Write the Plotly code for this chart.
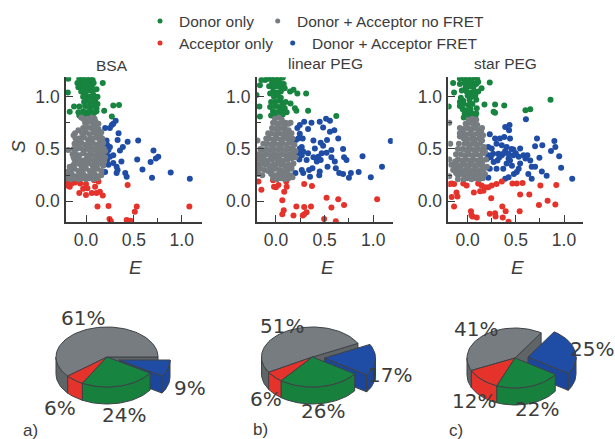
import math
import plotly.graph_objects as go

# ---------- data ----------
panel_titles = ["BSA", "linear PEG", "star PEG"]
panel_letters = ["a)", "b)", "c)"]
legend_labels = ["Donor only", "Donor + Acceptor no FRET", "Acceptor only", "Donor + Acceptor FRET"]
tick_vals = [0.0, 0.5, 1.0]
tick_text = ["0.0", "0.5", "1.0"]

bsa_green = [(-.185,1.17),(-.19,1.04),(.175,1.13),(.285,.915),(.345,.92),(.19,.865),(.27,.81),(-.17,.855),(-.125,.905),(-.07,.905),
 (-.09,1.13),(-.06,1.12),(-.07,1.17),(-.04,1.17),(0,1.18),(.04,1.17),(-.03,1.13),(.01,1.14),(.05,1.12),(-.03,1.09),(-.02,1.1),(.02,1.09),(.06,1.10),
 (-.01,1.05),(.03,1.06),(.07,1.05),(0,1.01),(.04,1.0),(.08,1.01),(.1,.98),(0,.96),(.04,.95),(.08,.96),(.1,.94),(-.01,.91),(.03,.90),(.07,.91),(.11,.89),
 (-.03,.86),(.01,.85),(.05,.86),(.09,.85),(.11,.86),(-.05,.81),(-.01,.82),(.03,.81),(.07,.82),
 (-.08,.85),(-.07,.82),(.12,.93),(.12,1.0),(.11,1.07),(.08,1.13),(.07,1.16),(-.08,1.09),(-.05,1.05),(-.03,1.0),(-.02,.95)]
bsa_gray = [(.02,.79),(.06,.80),(.09,.79),(-.01,.75),(.03,.76),(.07,.75),(.11,.74),(-.03,.70),(.01,.71),(.05,.70),(.09,.71),(.13,.69),
 (-.04,.65),(0,.66),(.04,.64),(.08,.66),(.12,.65),(.15,.62),(-.13,.63),(-.06,.60),(-.02,.61),(.02,.59),(.06,.60),(.10,.61),(.14,.59),
 (-.09,.55),(-.05,.56),(-.01,.54),(.03,.55),(.07,.56),(.11,.54),(.15,.55),(-.185,.49),(-.1,.50),(-.06,.51),(-.02,.49),(.02,.50),(.06,.51),(.10,.49),(.14,.50),(.18,.51),
 (-.11,.45),(-.07,.44),(-.03,.46),(.01,.44),(.05,.46),(.09,.44),(.13,.45),(.17,.46),(-.12,.40),(-.08,.41),(-.04,.39),(0,.40),(.04,.41),(.08,.39),(.12,.40),(.16,.41),
 (-.13,.35),(-.09,.36),(-.05,.34),(-.01,.35),(.03,.36),(.07,.34),(.11,.35),(.15,.36),(.18,.34),(-.16,.30),(-.12,.31),(-.08,.29),(-.04,.30),(0,.31),(.04,.29),(.08,.30),(.12,.31),(.16,.29),
 (-.19,.25),(-.15,.26),(-.11,.24),(-.07,.25),(-.03,.26),(.01,.24),(.05,.25),(.09,.26),(.13,.24),(.16,.25),(-.2,.22),(-.16,.21),(-.12,.22),(-.08,.21),(-.04,.22),(0,.21),(.04,.22),(.08,.21),(.12,.22),
 (-.115,.65),(-.08,.68),(-.08,.6),(-.11,.6),(-.12,.55),(-.13,.5),(-.14,.45),(-.13,.42),(.16,.66),(.17,.6),(.18,.56),(.2,.48),(.2,.42),(.19,.38),(-.03,.79),(-.05,.80),(.1,.76),(.13,.74),(-.17,.33),(-.18,.29)]
bsa_blue = [(.2,.70),(.25,.70),(.31,.77),(.27,.73),(.285,.74),(.215,.58),(.22,.54),(.25,.52),(.34,.65),(.33,.585),(.435,.57),(.385,.52),(.355,.485),(.545,.58),
 (.705,.485),(.73,.41),(.755,.425),(.675,.375),(.535,.40),(.59,.305),(.69,.225),(.885,.275),(1.085,.215),(.41,.27),(.425,.235),(.33,.30),(.32,.27),(.2,.28),
 (.235,.35),(.285,.365),(.37,.38),(.215,.46),(.25,.425),(.285,.44),(.22,.395),(.32,.33),(.21,.555),(.235,.49)]
bsa_red = [(-.185,.19),(-.17,.14),(-.115,.18),(-.06,.17),(0,.165),(-.07,.08),(0,.06),(.015,.125),(.085,.2),(.13,.19),(.095,.14),(.06,.08),(.11,.08),(.145,.09),(.175,.055),
 (.435,.155),(.12,-.05),(.235,-.045),(.53,-.05),(.51,-.1),(1.08,-.05),(.245,-.17),(.26,-.19),(.425,-.18),(.465,-.185),(-.15,.17),(-.19,.15),(-.03,.12)]

peg_green = [(.31,1.03),(.33,.865),(.62,.815),(.22,1.03),(.195,.89),(.15,.935),(.145,1.05),(.18,1.065),(-.15,1.16),(-.11,1.16),(-.165,1.11),(-.17,.905),(-.165,.81),(-.2,1.015),(.21,.865),
 (-.05,1.17),(-.01,1.18),(.03,1.17),(.07,1.18),(-.04,1.13),(0,1.14),(.04,1.13),(.08,1.12),(-.03,1.09),(.01,1.1),(.05,1.09),(.09,1.08),(-.03,1.05),(.01,1.04),(.05,1.05),(-.02,1.0),(.02,1.01),(.05,.99),
 (-.01,.95),(.03,.96),(.07,.94),(-.01,.91),(.03,.90),(.07,.91),(.09,.89),(-.03,.86),(.01,.85),(.05,.86),(.08,.85),(-.05,.82),(-.01,.83),(.03,.82),(.07,.83),
 (-.08,1.17),(-.07,1.1),(-.06,1.03),(-.05,.95),(-.06,.9),(.1,.95),(.11,.85)]
peg_gray = [(-.01,.79),(.03,.80),(.06,.78),(.15,.75),(.13,.74),(-.03,.75),(.01,.74),(.05,.75),(.09,.72),(-.04,.70),(0,.69),(.04,.70),(.08,.69),(.11,.68),(-.05,.65),(-.01,.64),(.03,.65),(.07,.64),(.11,.65),(.14,.63),
 (-.07,.60),(-.03,.59),(.01,.60),(.05,.59),(.09,.60),(.13,.59),(-.19,.58),(-.09,.55),(-.05,.54),(-.01,.55),(.03,.54),(.07,.55),(.11,.54),(.15,.56),(-.1,.50),(-.06,.49),(-.02,.50),(.02,.49),(.06,.50),(.10,.49),(.14,.50),(.17,.51),
 (-.14,.49),(-.18,.45),(-.14,.44),(-.1,.45),(-.06,.44),(-.02,.45),(.02,.44),(.06,.45),(.10,.44),(.14,.45),(.18,.46),(-.2,.40),(-.16,.41),(-.12,.40),(-.08,.39),(-.04,.40),(0,.41),(.04,.40),(.08,.39),(.12,.40),(.16,.41),
 (-.19,.35),(-.15,.36),(-.11,.35),(-.07,.34),(-.03,.35),(.01,.36),(.05,.35),(.09,.34),(.13,.35),(-.2,.30),(-.16,.31),(-.12,.30),(-.08,.29),(-.04,.30),(0,.31),(.04,.30),(.08,.29),(.12,.30),(.16,.31),
 (-.18,.26),(-.14,.25),(-.05,.26),(-.01,.25),(.03,.26),(.07,.25),(.11,.26),(.15,.25),(-.03,.22),(.01,.21),(.05,.22),(.09,.21),(.13,.22),(.17,.23),
 (.1,.75),(.13,.68),(.16,.65),(.17,.6),(.19,.54),(.2,.48),(.2,.42),(.18,.36),(.16,.34),(-.08,.65),(-.1,.6),(-.13,.55),(-.16,.5)]
peg_blue = [(1.18,.575),(1.09,.33),(.975,.23),(.89,.43),(.85,.28),(.77,.27),(.75,.225),(.69,.26),(.65,.27),(.615,.315),(.53,.33),(.45,.285),(.445,.25),(.35,.235),(.28,.27),(.265,.30),(.2,.27),(.375,.315),(.34,.30),
 (.725,.395),(.70,.42),(.69,.50),(.64,.60),(.6,.68),(.555,.665),(.555,.77),(.515,.79),(.45,.76),(.485,.705),(.525,.585),(.485,.53),(.46,.56),(.365,.75),(.33,.69),(.29,.76),(.245,.73),(.22,.70),(.23,.60),(.275,.60),(.385,.58),
 (.4,.505),(.265,.52),(.28,.475),(.33,.46),(.385,.42),(.435,.425),(.47,.46),(.57,.49),(.57,.42),(.605,.38),(.24,.40),(.265,.44),(.23,.46),(.315,.395),(.42,.38),(.52,.465),(.46,.395),(.205,.585),(.245,.645),(.245,.505)]
peg_red = [(-.18,.19),(-.15,.11),(-.03,.2),(0,.135),(.025,.155),(-.02,.14),(.105,.19),(.11,.14),(.085,.09),(.065,.01),(.29,.165),(.37,.145),(.52,.035),(.64,.02),(.7,-.035),(.57,-.06),(1.04,.02),
 (.21,-.05),(.29,-.055),(.36,-.05),(.08,-.085),(.065,-.125),(.18,-.135),(.275,-.135),(.315,-.105),(.29,-.125),(.495,-.17),(.615,-.19)]

star_green = [(.23,1.135),(.86,.97),(.6,.87),(.65,.88),(.285,.925),(.38,.915),(.285,.845),(.27,.855),(.175,.925),(-.15,1.13),(-.14,1.04),(-.195,.905),(-.08,.95),(-.045,.96),(.145,1.08),(.11,1.05),(.09,.97),(.095,.89),
 (-.04,1.17),(0,1.18),(.04,1.17),(.08,1.18),(-.03,1.13),(.01,1.14),(.05,1.13),(.09,1.12),(-.02,1.09),(.02,1.1),(.06,1.09),(-.01,1.05),(.03,1.04),(.07,1.05),(0,1.01),(.04,1.0),(.08,1.01),(.02,.97),
 (-.07,.99),(-.04,.93),(.01,.92),(.05,.93),(-.05,.88),(-.01,.87),(.03,.88),(-.03,.84),(.01,.83),(.05,.84),(-.04,.80),(0,.81),(.04,.80),(.08,.81),(-.08,.91),
 (-.08,1.17),(-.08,1.12),(-.06,1.06),(.11,1.14),(.1,1.17),(.09,.84)]
star_gray = [(.01,.78),(.05,.79),(.09,.78),(-.19,.75),(-.02,.74),(.02,.75),(.06,.74),(.1,.73),(-.04,.69),(0,.70),(.04,.69),(.08,.70),(.12,.68),(-.05,.65),(-.01,.64),(.03,.65),(.07,.64),(.11,.65),(.14,.67),(-.08,.62),
 (-.04,.60),(0,.59),(.04,.60),(.08,.59),(.12,.60),(-.18,.55),(-.03,.55),(.01,.54),(.05,.55),(.09,.54),(.13,.55),(-.05,.50),(-.01,.49),(.03,.50),(.07,.49),(.11,.50),(.15,.49),(-.07,.45),(-.03,.44),(.01,.45),(.05,.44),(.09,.45),(.13,.44),(.16,.46),
 (-.19,.40),(-.1,.40),(-.06,.39),(-.02,.40),(.02,.39),(.06,.40),(.1,.39),(.14,.40),(-.17,.35),(-.11,.35),(-.07,.34),(-.03,.35),(.01,.34),(.05,.35),(.09,.34),(.13,.35),(.15,.36),(-.15,.30),(-.1,.30),(-.06,.29),(-.02,.30),(.02,.29),(.06,.30),(.1,.29),(.14,.30),(.17,.31),
 (-.19,.24),(-.1,.25),(-.06,.26),(-.02,.25),(.02,.26),(.06,.25),(.1,.26),(.14,.25),(.18,.26),(-.04,.21),(0,.22),(.04,.21),(.08,.22),(.12,.21),
 (-.08,.7),(-.08,.65),(.15,.7),(.16,.63),(.15,.58),(.17,.52),(.18,.47),(.19,.4),(.2,.33),(-.09,.55),(-.1,.5),(-.12,.45),(-.13,.38),(-.13,.32),(-.12,.27),(-.1,.21),(.16,.22)]
star_blue = [(1.085,.215),(.97,.32),(.95,.43),(.9,.575),(.91,.52),(.865,.48),(.775,.535),(.72,.6),(.7,.525),(.745,.415),(.65,.39),(.665,.33),(.7,.33),(.77,.285),(.82,.245),(.665,.215),(.63,.26),(.605,.785),(.435,.73),(.43,.68),(.39,.71),
 (.23,.64),(.335,.6),(.38,.615),(.44,.6),(.285,.6),(.3,.55),(.355,.535),(.215,.52),(.25,.505),(.405,.52),(.475,.495),(.545,.505),(.58,.44),(.53,.425),(.475,.44),(.425,.455),(.37,.455),(.32,.455),(.265,.455),(.215,.44),(.2,.405),
 (.23,.31),(.3,.31),(.405,.36),(.46,.34),(.53,.31),(.48,.26),(.425,.23),(.215,.225),(.39,.215),(.51,.28),(.37,.31),(.545,.36),(.425,.41),(.355,.44),(.44,.39),(.27,.375),(.33,.42),(.39,.48),(.5,.46),(.6,.41),(.62,.44),(.31,.39),(.24,.42),(.455,.5)]
star_red = [(-.185,.165),(-.14,.165),(-.165,.17),(-.045,.17),(-.01,.15),(.11,.17),(.145,.15),(.18,.135),(.13,.095),(.165,.1),(.065,.085),(.215,.135),(.25,.15),(.3,.165),(.355,.19),(.465,.17),(.51,.17),(.57,.175),(.755,.15),(.92,.155),
 (.545,.065),(.64,.065),(.245,.03),(-.165,.04),(-.115,.085),(-.105,.045),(-.14,-.05),(.74,-.035),(.83,.005),(.91,-.03),(.36,-.05),(.395,-.095),(.54,-.095),(.035,-.095),(.23,-.12),(.285,-.115),(.29,-.145),(.365,-.155),(.425,-.195),(.05,-.145),(.095,-.155),(.04,-.13)]

pie_values = [[61, 6, 24, 9], [51, 6, 26, 17], [41, 12, 22, 25]]   # gray, red, green, blue

# ---------- styling ----------
GREEN, GRAY, RED, BLUE = "#17843f", "#767c80", "#e5322a", "#1f4da6"
WALLS = {GREEN: "#17803d", GRAY: "#5f6467", RED: "#e5322a", BLUE: "#1b469b"}
EDGE = "#3d4246"
INK = "#3c3c3c"
SANS = "Liberation Sans, Arial, sans-serif"
PIEFONT = "DejaVu Sans, Verdana, sans-serif"
W, H = 615, 439

fig = go.Figure()

panels = [
    dict(box=(66, 201.7), xr=[-.209, 1.209], data=(bsa_green, bsa_blue, bsa_red, bsa_gray)),
    dict(box=(256.7, 392.7), xr=[-.198, 1.2], data=(peg_green, peg_blue, peg_red, peg_gray)),
    dict(box=(448.3, 583.3), xr=[-.2, 1.2], data=(star_green, star_blue, star_red, star_gray)),
]
YBOX = (77.3, 221.9)
YRANGE = [-.197, 1.185]
axis_style = dict(showgrid=False, zeroline=False, showline=True, linecolor="#3a3a3a", linewidth=1.6,
                  ticks="inside", ticklen=7, tickwidth=1.4, tickcolor="#3a3a3a",
                  tickmode="array", tickvals=tick_vals, ticktext=tick_text,
                  tickfont=dict(family=SANS, size=17.5, color=INK),
                  minor=dict(tickmode="array", tickvals=[.25, .75], ticks="inside", ticklen=4, tickwidth=1.2, tickcolor="#3a3a3a"))

layout = dict(width=W, height=H, margin=dict(l=0, r=0, t=0, b=0), paper_bgcolor="white", plot_bgcolor="rgba(0,0,0,0)", showlegend=False)
for i, p in enumerate(panels, 1):
    layout[f"xaxis{i}"] = dict(domain=[p["box"][0] / W, p["box"][1] / W], range=p["xr"], anchor=f"y{i}", ticklabelstandoff=1, **axis_style)
    layout[f"yaxis{i}"] = dict(domain=[1 - YBOX[1] / H, 1 - YBOX[0] / H], range=YRANGE, anchor=f"x{i}", ticklabelstandoff=1, **axis_style)
    for pts, col in zip(p["data"], (GREEN, BLUE, RED, GRAY)):
        fig.add_trace(go.Scatter(x=[q[0] for q in pts], y=[q[1] for q in pts], mode="markers",
                                 marker=dict(size=6, color=col, line=dict(width=0)),
                                 xaxis=f"x{i}", yaxis=f"y{i}", hoverinfo="skip"))

# full-page helper axes, measured in pixels, for the legend and 3-D pies
layout["xaxis4"] = dict(domain=[0, 1], range=[0, W], visible=False, anchor="y4", fixedrange=True)
layout["yaxis4"] = dict(domain=[0, 1], range=[H, 0], visible=False, anchor="x4", fixedrange=True)

def page(xs, ys, **kw):
    fig.add_trace(go.Scatter(x=xs, y=ys, xaxis="x4", yaxis="y4", hoverinfo="skip", **kw))

def poly(xs, ys, fill):
    page(xs + xs[:1], ys + ys[:1], mode="lines", fill="toself", fillcolor=fill,
         line=dict(color=EDGE, width=1))

def arc(a0, a1):
    n = max(2, int(abs(a1 - a0) / 3) + 2)
    return [a0 + (a1 - a0) * k / (n - 1) for k in range(n)]

def wedge(cx, cy, rx, ry, th, a0, a1, col):
    pt = lambda a: (cx + rx * math.cos(math.radians(a)), cy - ry * math.sin(math.radians(a)))
    # visible radial cut faces
    for a, vis in ((a0, math.cos(math.radians(a0)) > 0), (a1, math.cos(math.radians(a1)) < 0)):
        if vis:
            x, y = pt(a)
            poly([cx, x, x, cx], [cy, y, y + th, cy + th], WALLS[col])
    # outer wall: the part of the rim that faces the viewer
    for lo, hi in ((180, 360), (540, 720)):
        s, e = max(a0, lo), min(a1, hi)
        if e > s:
            top = [pt(a) for a in arc(s, e)]
            poly([q[0] for q in top] + [q[0] for q in reversed(top)],
                 [q[1] for q in top] + [q[1] + th for q in reversed(top)], WALLS[col])
    # top face
    rim = [pt(a) for a in arc(a0, a1)]
    poly([cx] + [q[0] for q in rim], [cy] + [q[1] for q in rim], col)

pie_geom = [
    dict(cx=107, cy=357, rx=51, ry=30, th=17, start=0, pull=(12, 3)),
    dict(cx=312.5, cy=357, rx=51, ry=30, th=17, start=27, pull=(12, 1)),
    dict(cx=515, cy=358, rx=48, ry=30, th=17, start=57, pull=(13, -1)),
]
for vals, g in zip(pie_values, pie_geom):
    angs = [g["start"]]
    for v in vals:
        angs.append(angs[-1] + v * 3.6)
    base = (g["cx"], g["cy"], g["rx"], g["ry"], g["th"])
    wedge(*base, angs[0], angs[1], GRAY)
    wedge(g["cx"] + g["pull"][0], g["cy"] + g["pull"][1], g["rx"], g["ry"], g["th"], angs[3], angs[4], BLUE)
    wedge(*base, angs[1], angs[2], RED)
    wedge(*base, angs[2], angs[3], GREEN)

# legend dots
page([160, 277.7, 160, 292.7], [21, 21, 43, 43], mode="markers", marker=dict(size=5, color=[GREEN, GRAY, RED, BLUE]))

def text(x, y, s, size, family=SANS, anchor="center", italic=False, angle=0):
    fig.add_annotation(x=x, y=y, xref="x4", yref="y4", text=f"<i>{s}</i>" if italic else s, showarrow=False,
                       xanchor=anchor, yanchor="middle", textangle=angle, borderpad=0,
                       font=dict(family=family, size=size, color=INK))

for (x, y), s in zip([(178, 21.5), (296, 21.5), (178, 43), (311, 43)], legend_labels):
    text(x, y, s, 15.5, anchor="left")
for (x, y), s in zip([(111.7, 65), (325, 63), (505, 63)], panel_titles):
    text(x, y, s, 15.5)
for x in (135, 327, 517):
    text(x, 267, "E", 19, italic=True)
text(18, 147, "S", 19, italic=True, angle=-90)

pie_label_xy = [
    [(83, 318), (60, 408), (124, 415), (190, 388)],
    [(282, 326), (266, 399), (323, 411), (390, 375)],
    [(476, 329), (474, 401), (537, 409), (592, 349)],
]
for vals, xy in zip(pie_values, pie_label_xy):
    for v, (x, y) in zip(vals, xy):
        text(x, y, f"{v}%", 20, family=PIEFONT)
for (x, y), s in zip([(30, 430), (260, 429), (456, 430)], panel_letters):
    text(x, y, s, 17)

fig.update_layout(**layout)
fig.write_html("out.html", config=dict(displayModeBar=False),
               post_script="document.body.style.margin='0';document.body.style.overflow='hidden';")
